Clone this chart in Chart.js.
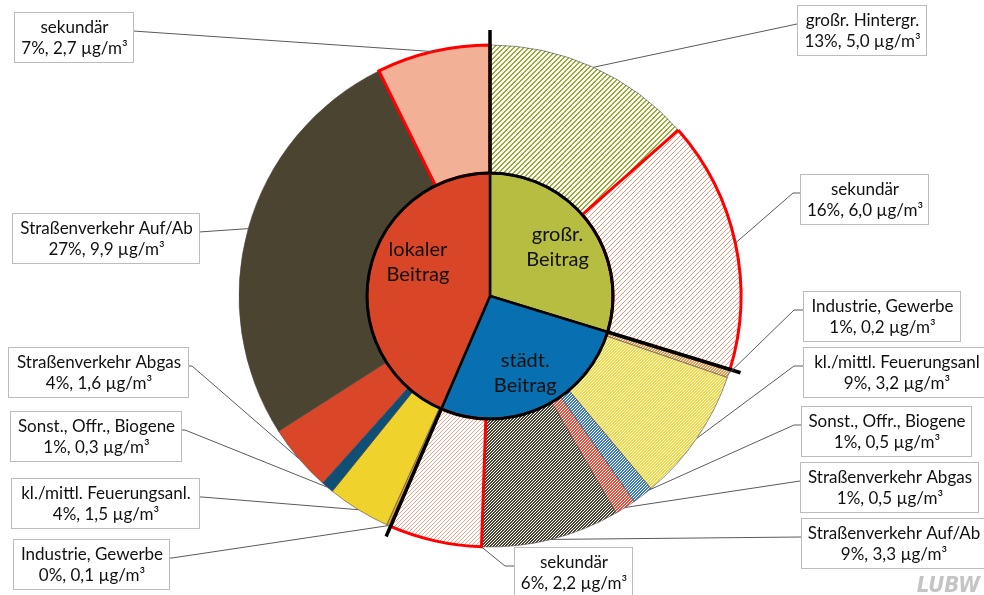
<!DOCTYPE html>
<html>
<head>
<meta charset="utf-8">
<script src="https://cdn.jsdelivr.net/npm/chart.js@4.4.1/dist/chart.umd.min.js"></script>
<style>
  html, body { margin: 0; padding: 0; background: #ffffff; }
  #wrap { width: 984px; height: 595px; position: relative; }
</style>
</head>
<body>
<div id="wrap"><canvas id="c" width="984" height="595"></canvas></div>
<script>
// Beitragsgruppen (innerer Kreis)
const groupNames = [['großr.', 'Beitrag'], ['städt.', 'Beitrag'], ['lokaler', 'Beitrag']];

// Quellen (äußerer Ring), im Uhrzeigersinn ab 12 Uhr
const sourceNames = [
  'großr. Hintergr.', 'sekundär',
  'Industrie, Gewerbe', 'kl./mittl. Feuerungsanl', 'Sonst., Offr., Biogene',
  'Straßenverkehr Abgas', 'Straßenverkehr Auf/Ab', 'sekundär',
  'Industrie, Gewerbe', 'kl./mittl. Feuerungsanl.', 'Sonst., Offr., Biogene',
  'Straßenverkehr Abgas', 'Straßenverkehr Auf/Ab', 'sekundär'
];
const sourceGroup = [0, 0, 1, 1, 1, 1, 1, 1, 2, 2, 2, 2, 2, 2];
// Konzentrationsbeiträge in µg/m³
const sourceValues = [5.0, 6.0, 0.2, 3.2, 0.5, 0.5, 3.3, 2.2, 0.1, 1.5, 0.3, 1.6, 9.9, 2.7];
// Anteile in %, wie beschriftet
const sourcePercent = [13, 16, 1, 9, 1, 1, 9, 6, 0, 4, 1, 4, 27, 7];

// Gruppensummen aus den Einzelquellen
const groupValues = groupNames.map((_, g) =>
  Math.round(sourceValues.reduce((s, v, i) => s + (sourceGroup[i] === g ? v : 0), 0) * 10) / 10);

// ---- Darstellung ----
const canvas = document.getElementById('c');
const ctx = canvas.getContext('2d');

function hatch(fg, p, k, dir) {
  const c = document.createElement('canvas');
  c.width = c.height = p;
  const g = c.getContext('2d');
  g.fillStyle = '#ffffff';
  g.fillRect(0, 0, p, p);
  g.fillStyle = fg;
  for (let y = 0; y < p; y++) {
    for (let x = 0; x < p; x++) {
      const m = dir === '/' ? (x + y) % p : (((x - y) % p) + p) % p;
      if (m < k) g.fillRect(x, y, 1, 1);
    }
  }
  return ctx.createPattern(c, 'repeat');
}

const groupColors = ['#b7bd40', '#0870b0', '#d94627'];
const sourceFills = [
  hatch('#9aad30', 5, 2, '/'),
  hatch('#f09478', 5, 1, '/'),
  hatch('#e8964a', 3, 2, '/'),
  hatch('#f2d838', 3, 2, '/'),
  hatch('#3a7cbc', 3, 2, '/'),
  hatch('#e64c38', 3, 2, '/'),
  hatch('#4a4530', 3, 2, '/'),
  hatch('#f0a086', 4, 1, '/'),
  '#e0a030', '#efd22c', '#0f4f75', '#d94628', '#4b4431', '#f2b196'
];
const isSecondary = sourceNames.map(n => n === 'sekundär');
const sourceBorders = isSecondary.map(s => s ? '#ff0000' : '#4a4a4a');
const sourceBorderW = isSecondary.map(s => s ? 3 : 0.6);

// Beschriftungskästen: linke obere Ecke, Breite, Anschluss der Führungslinie
const boxLayout = [
  { x: 797, y: 5,   w: 129, side: 'r', stub: 0, frac: 0.5 },
  { x: 800, y: 174, w: 128, side: 'r', stub: 7, frac: 0.5 },
  { x: 803, y: 291, w: 157, side: 'r', stub: 9, frac: 0.5 },
  { x: 803, y: 347, w: 186, side: 'r', stub: 9, frac: 0.5 },
  { x: 801, y: 406, w: 170, side: 'r', stub: 7, frac: 0.1 },
  { x: 800, y: 462, w: 178, side: 'r', stub: 0, frac: 0.5 },
  { x: 801, y: 518, w: 184, side: 'r', stub: 0, frac: 0.5 },
  { x: 514, y: 547, w: 118, side: 'r', stub: 9, frac: 0.0 },
  { x: 13,  y: 539, w: 156, side: 'l', stub: 3, frac: 0.5 },
  { x: 11,  y: 478, w: 188, side: 'l', stub: 3, frac: 0.5 },
  { x: 10,  y: 411, w: 171, side: 'l', stub: 4, frac: 0.5 },
  { x: 8,   y: 347, w: 180, side: 'l', stub: 4, frac: 0.5 },
  { x: 12,  y: 213, w: 187, side: 'l', stub: 0, frac: 0.5 },
  { x: 14,  y: 12,  w: 119, side: 'l', stub: 0, frac: 0.5 }
];
const BOX_H = 50;
const innerLabelPlace = [{ frac: 0.5, r: 84 }, { frac: 0.5, r: 84 }, { frac: 0.59, r: 80 }];

const LABEL_FONT = '17px Lato, "Open Sans", sans-serif';
const INNER_FONT = '20px Lato, "Open Sans", sans-serif';

function fmt(v) { return v.toFixed(1).replace('.', ','); }

function pt(cx, cy, a, r) { return [cx + r * Math.cos(a), cy + r * Math.sin(a)]; }

const overlay = {
  id: 'overlay',
  afterDatasetsDraw(chart) {
    const c = chart.ctx;
    const outer = chart.getDatasetMeta(0).data;
    const inner = chart.getDatasetMeta(1).data;
    const cx = inner[0].x, cy = inner[0].y;
    const rIn = inner[0].outerRadius;
    const rOut = outer[0].outerRadius;

    // Kreisrand des inneren Kreises
    c.save();
    c.strokeStyle = '#000';
    c.lineWidth = 3;
    c.beginPath();
    c.arc(cx, cy, rIn, 0, Math.PI * 2);
    c.stroke();
    c.restore();

    // Trennlinien zwischen den Beitragsgruppen
    c.save();
    c.strokeStyle = '#000';
    c.lineWidth = 3.5;
    c.lineCap = 'butt';
    inner.forEach((arc, i) => {
      const a = arc.startAngle;
      const ext = i === 0 ? 15 : 11;
      const p0 = pt(cx, cy, a, rIn - 1);
      const p1 = pt(cx, cy, a, rOut + ext);
      c.beginPath(); c.moveTo(p0[0], p0[1]); c.lineTo(p1[0], p1[1]); c.stroke();
    });
    c.restore();

    // Beschriftung innerer Kreis
    c.save();
    c.font = INNER_FONT;
    c.fillStyle = '#111';
    c.textAlign = 'center';
    c.textBaseline = 'middle';
    inner.forEach((arc, i) => {
      const pl = innerLabelPlace[i];
      const a = arc.startAngle + (arc.endAngle - arc.startAngle) * pl.frac;
      const p = pt(cx, cy, a, pl.r);
      c.fillText(groupNames[i][0], p[0], p[1] - 12);
      c.fillText(groupNames[i][1], p[0], p[1] + 13);
    });
    c.restore();

    // Führungslinien und Kästen äußerer Ring
    c.save();
    outer.forEach((arc, i) => {
      const L = boxLayout[i];
      const a = arc.startAngle + (arc.endAngle - arc.startAngle) * L.frac;
      const end = pt(cx, cy, a, rOut);
      const ly = L.y + 19;
      const sx = L.side === 'r' ? L.x : L.x + L.w;
      const kx = L.side === 'r' ? sx - L.stub : sx + L.stub;
      c.strokeStyle = '#5a5a5a';
      c.lineWidth = 1;
      c.beginPath();
      c.moveTo(sx, ly);
      c.lineTo(kx, ly);
      c.lineTo(end[0], end[1]);
      c.stroke();

      c.fillStyle = '#ffffff';
      c.fillRect(L.x, L.y, L.w, BOX_H);
      c.strokeStyle = '#bcbcbc';
      c.strokeRect(L.x + 0.5, L.y + 0.5, L.w, BOX_H);

      c.fillStyle = '#111';
      c.font = LABEL_FONT;
      c.textAlign = 'center';
      c.textBaseline = 'alphabetic';
      const mx = L.x + L.w / 2 + 1;
      c.fillText(sourceNames[i], mx, L.y + 21);
      c.fillText(sourcePercent[i] + '%, ' + fmt(sourceValues[i]) + ' µg/m³', mx, L.y + 42);
    });
    c.restore();

    // Logo
    c.save();
    c.font = 'italic bold 22px "Liberation Sans Narrow", "DejaVu Sans Condensed", sans-serif';
    c.fillStyle = '#c4c4c4';
    c.textAlign = 'right';
    c.textBaseline = 'alphabetic';
    c.fillText('LUBW', 980, 592);
    c.restore();
  }
};

new Chart(ctx, {
  type: 'doughnut',
  data: {
    labels: sourceNames,
    datasets: [
      {
        data: sourceValues,
        backgroundColor: sourceFills,
        borderColor: sourceBorders,
        borderWidth: sourceBorderW,
        borderJoinStyle: 'miter',
        weight: 128
      },
      {
        data: groupValues,
        backgroundColor: groupColors,
        borderColor: '#000000',
        borderWidth: 2.5,
        borderJoinStyle: 'miter',
        weight: 123
      }
    ]
  },
  options: {
    responsive: false,
    animation: false,
    events: [],
    cutout: 0,
    radius: 251,
    rotation: 0,
    layout: { padding: { top: 45, bottom: 48, left: 0, right: 4 } },
    plugins: { legend: { display: false }, tooltip: { enabled: false } }
  },
  plugins: [overlay]
});
</script>
</body>
</html>
